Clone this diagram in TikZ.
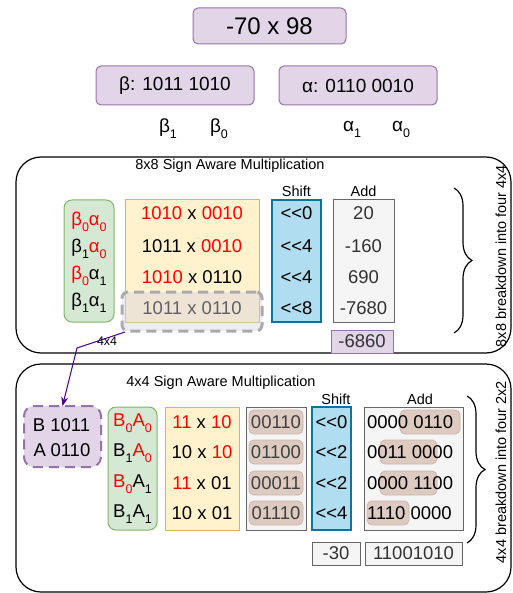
\documentclass[tikz,border=0pt]{standalone}
\usepackage{fontspec}
\setmainfont{Liberation Sans}
\usetikzlibrary{decorations.pathreplacing,arrows.meta,fit}
\definecolor{pfill}{HTML}{E1D5E7}
\definecolor{pdraw}{HTML}{9673A6}
\definecolor{gfill}{HTML}{D5E8D4}
\definecolor{gdraw}{HTML}{82B366}
\definecolor{yfill}{HTML}{FFF2CC}
\definecolor{ydraw}{HTML}{D6B656}
\definecolor{bfill}{HTML}{B1DDF0}
\definecolor{bdraw}{HTML}{10739E}
\definecolor{sfill}{HTML}{F5F5F5}
\definecolor{sdraw}{HTML}{666666}
\definecolor{stext}{HTML}{333333}
\definecolor{chipf}{HTML}{DDCBC2}
\definecolor{chipd}{HTML}{CDB6AA}
\definecolor{dshf}{HTML}{D8D5E4}
\definecolor{dshd}{HTML}{ABABAB}
\definecolor{arrc}{HTML}{4C0099}
\definecolor{myred}{HTML}{FF0000}
\newcommand\fs[1]{\fontsize{#1}{#1}\selectfont}
\newcommand\sbs[1]{\raisebox{-0.32em}{\fontsize{12.5}{12.5}\selectfont #1}}
\newcommand\R[1]{\textcolor{myred}{#1}}
\begin{document}
\begin{tikzpicture}[x=1pt,y=-1pt,
  every node/.style={inner sep=0pt,outer sep=0pt},
  pbox/.style={draw=pdraw,fill=pfill,rounded corners=5pt,line width=1pt},
  gbox/.style={draw=gdraw,fill=gfill,rounded corners=8pt,line width=1pt},
  ybox/.style={draw=ydraw,fill=yfill,line width=1pt},
  bbox/.style={draw=bdraw,fill=bfill,line width=1.2pt},
  sbox/.style={draw=sdraw,fill=sfill,line width=1pt},
  chipbox/.style={draw=chipd,fill=chipf,rounded corners=5pt,line width=0.8pt},
  outer/.style={draw=black,line width=1.2pt,rounded corners=25pt},
  txt/.style={font=\fs{18.5}},
  small/.style={font=\fs{14.5}},
  bracestyle/.style={decorate,decoration={brace,amplitude=18pt},line width=1.2pt}]
\useasboundingbox (0,0) rectangle (512,593);
% top
\node[pbox,fit={(193,8)(346,44)}] (topb) {};
\node[font=\fs{24}] (toptxt) at (topb.center) {-70 x 98};
\node[pbox,fit={(96,66)(254,105)}] (betab) {};
\node[font=\fs{19}] (betat) at (betab.center) {β: 1011 1010};
\node[pbox,fit={(279,66)(437,105)}] (alphab) {};
\node[font=\fs{19}] (alphat) at (alphab.center) {α: 0110 0010};
\node[font=\fs{19}] (lb1) at (168,129) {β\sbs{1}};
\node[font=\fs{19}] (lb0) at (219,129) {β\sbs{0}};
\node[font=\fs{19}] (la1) at (352,129) {α\sbs{1}};
\node[font=\fs{19}] (la0) at (401,129) {α\sbs{0}};
% 8x8 section
\node[outer,fit={(16,157)(511,353)}] (out1) {};
\node[small] (tit1) at (230,166) {8x8 Sign Aware Multiplication};
\node[gbox,fit={(64,200)(114,322)}] (g1) {};
\node[ybox,fit={(125,200)(259,322)}] (y1) {};
\node[bbox,fit={(272,200)(321,322)}] (bl1) {};
\node[sbox,fit={(333,200)(394,322)}] (ad1) {};
\node[small] (sh1l) at (296.5,191) {Shift};
\node[small] (ad1l) at (363.5,191) {Add};
\node[txt] (g1a) at (89,222) {\R{β\sbs{0}α\sbs{0}}};
\node[txt] (g1b) at (89,249) {β\sbs{1}\R{α\sbs{0}}};
\node[txt] (g1c) at (89,276) {\R{β\sbs{0}}α\sbs{1}};
\node[txt] (g1d) at (89,303) {β\sbs{1}α\sbs{1}};
\node[txt] (y1a) at (192,213) {\R{1010} x \R{0010}};
\node[txt] (y1b) at (192,246) {1011 x \R{0010}};
\node[txt] (y1c) at (192,277) {\R{1010} x 0110};
\node[txt] (y1d) at (192,308) {1011 x 0110};
\node[txt] (s1a) at (296.5,213) {<{}<0};
\node[txt] (s1b) at (296.5,246) {<{}<4};
\node[txt] (s1c) at (296.5,277) {<{}<4};
\node[txt] (s1d) at (296.5,308) {<{}<8};
\node[txt,text=stext] (a1a) at (363.5,213) {20};
\node[txt,text=stext] (a1b) at (363.5,246) {-160};
\node[txt,text=stext] (a1c) at (363.5,277) {690};
\node[txt,text=stext] (a1d) at (363.5,308) {-7680};
\node[draw=dshd,fill=dshf,fill opacity=0.45,dash pattern=on 10pt off 6pt,line width=3pt,rounded corners=6pt,fit={(122,292)(262,331)}] (dsh) {};
\node[pbox,rounded corners=0pt,fit={(331,330)(393,353)}] (res1) {};
\node[txt,text=stext] (res1t) at (res1.center) {-6860};
\coordinate (br1t) at (454,188);
\coordinate (br1b) at (454,333);
\draw[bracestyle] (br1t) -- (br1b);
\node[small,rotate=90] (rot1) at (501,256) {8x8 breakdown into four 4x4};
% 4x4 section
\node[outer,fit={(16,364)(511,592)}] (out2) {};
\node[small] (tit2) at (221,383) {4x4 Sign Aware Multiplication};
\node[pbox,draw=pdraw,dash pattern=on 10pt off 6pt,line width=2pt,rounded corners=10pt,fit={(24,406)(101,467)}] (ba) {};
\node[txt] (bt) at (61.5,425) {B 1011};
\node[txt] (at) at (62,450) {A\hspace{4.5pt}0110};
\coordinate (bend) at (77,348);
\draw[arrc,line width=1pt,-{Stealth[length=9pt,width=7pt]}] (dsh.south west) ++(3,1) coordinate (dstart) (dstart) -- (bend) -- (ba.north);
\node[font=\fs{12.4}] (lbl44) at (107,341) {4x4};
\node[gbox,fit={(108,407)(157,530)}] (g2) {};
\node[ybox,fit={(165,407)(239,530)}] (y2) {};
\node[sbox,fit={(246,407)(306,530)}] (c2) {};
\node[bbox,fit={(312,407)(351,530)}] (bl2) {};
\node[sbox,fit={(364,407)(463,530)}] (ad2) {};
\node[small] (sh2l) at (336,399) {Shift};
\node[small] (ad2l) at (420,399) {Add};
\node[txt] (g2a) at (132.5,423) {\R{B\sbs{0}A\sbs{0}}};
\node[txt] (g2b) at (132.5,453) {B\sbs{1}\R{A\sbs{0}}};
\node[txt] (g2c) at (132.5,484) {\R{B\sbs{0}}A\sbs{1}};
\node[txt] (g2d) at (132.5,514) {B\sbs{1}A\sbs{1}};
\node[txt] (y2a) at (202,422) {\R{11} x \R{10}};
\node[txt] (y2b) at (202,452) {10 x \R{10}};
\node[txt] (y2c) at (202,483) {\R{11} x 01};
\node[txt] (y2d) at (202,513) {10 x 01};
\node[chipbox,fit={(249,410)(303,434)}] (c2a) {};
\node[chipbox,fit={(249,440)(303,464)}] (c2b) {};
\node[chipbox,fit={(249,471)(303,495)}] (c2c) {};
\node[chipbox,fit={(249,501)(303,525)}] (c2d) {};
\node[txt,text=black!75] (c2at) at (c2a.center) {00110};
\node[txt,text=black!75] (c2bt) at (c2b.center) {01100};
\node[txt,text=black!75] (c2ct) at (c2c.center) {00011};
\node[txt,text=black!75] (c2dt) at (c2d.center) {01110};
\node[txt] (s2a) at (331.5,422) {<{}<0};
\node[txt] (s2b) at (331.5,452) {<{}<2};
\node[txt] (s2c) at (331.5,483) {<{}<2};
\node[txt] (s2d) at (331.5,513) {<{}<4};
\node[chipbox,fit={(400,410)(460,434)}] (k1) {};
\node[chipbox,fit={(380,440)(437,464)}] (k2) {};
\node[chipbox,fit={(380,471)(437,495)}] (k3) {};
\node[chipbox,fit={(367,501)(409,525)}] (k4) {};
\node[txt,anchor=west] (a2a) at (367,422) {0000 0110};
\node[txt,anchor=west] (a2b) at (367,452) {0011 0000};
\node[txt,anchor=west] (a2c) at (367,483) {0000 1100};
\node[txt,anchor=west] (a2d) at (367,513) {1110 0000};
\node[sbox,fit={(312,542)(360,565)}] (r30) {};
\node[txt,text=stext] (r30t) at (r30.center) {-30};
\node[sbox,fit={(365,542)(462,565)}] (rbin) {};
\node[txt,text=stext] (rbint) at (rbin.center) {11001010};
\coordinate (br2t) at (467,396);
\coordinate (br2b) at (467,543);
\draw[bracestyle] (br2t) -- (br2b);
\node[small,rotate=90] (rot2) at (501,472) {4x4 breakdown into four 2x2};
\end{tikzpicture}
\end{document}
